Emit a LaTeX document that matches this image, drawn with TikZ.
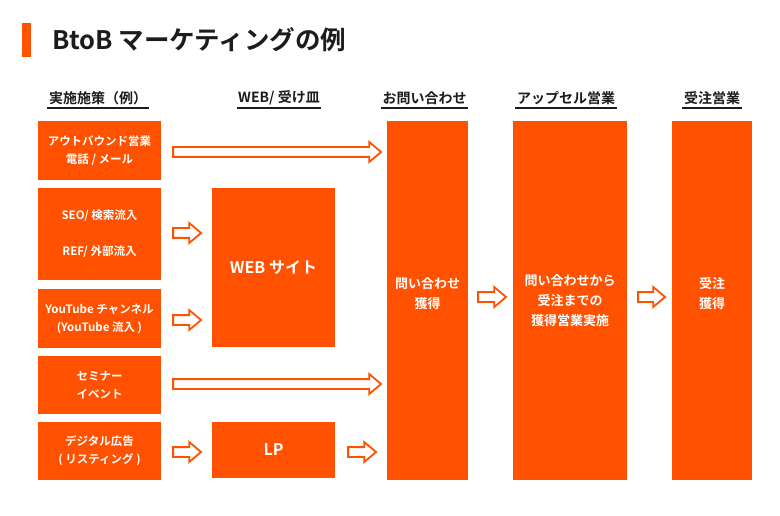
\documentclass[tikz,border=0pt]{standalone}
\usepackage{fontspec}
\setmainfont{Noto Sans CJK JP}[BoldFont={* Bold}]
\usepackage{tikz}
\usetikzlibrary{calc, shapes.arrows}

\definecolor{mkorange}{RGB}{255,81,0}
\definecolor{mkink}{RGB}{28,28,28}
\tikzset{
  box/.style={fill=mkorange, text=white, font=\bfseries\fontsize{11.5}{18}\selectfont, align=center, inner sep=0pt, minimum width=123pt},
  stage/.style={box, font=\bfseries\fontsize{13}{20}\selectfont},
  big/.style={box, font=\bfseries\fontsize{16}{18}\selectfont},
  head/.style={text=mkink, font=\bfseries\fontsize{14}{16}\selectfont, inner sep=0pt},
  uline/.style={draw=mkink, line width=2pt},
  hollow/.style={single arrow, draw=mkorange, fill=white, line width=1.8pt, inner xsep=0pt, inner ysep=4pt, text height=0pt, text depth=0pt, single arrow head extend=5pt, single arrow head indent=0pt, single arrow tip angle=80, anchor=tail}
}

\begin{document}
\begin{tikzpicture}[x=1pt, y=-1pt]
\useasboundingbox (0,0) rectangle (780,516);
% title
\fill[mkorange] (22,23) rectangle (30.5,57);
\node[anchor=west, inner sep=0pt, text=mkink, font=\bfseries\fontsize{25.5}{28}\selectfont] (title) at (52,39.5) {BtoB マーケティングの例};

% column heads
\node[head] (h1) at (98,98) {実施施策（例）};
\node[head] (h2) at (279,98) {WEB/ 受け皿};
\node[head] (h3) at (424.5,98) {お問い合わせ};
\node[head] (h4) at (566,98) {アップセル営業};
\node[head] (h5) at (712,98) {受注営業};
\foreach \h in {h1,h2,h3,h4,h5}
  \draw[uline] ($(\h.west)+(-1.5pt,-10.5pt)$) -- ($(\h.east)+(1.5pt,-10.5pt)$);

% measures
\node[box, minimum height=59pt] (b1) at (99.5,150.5) {アウトバウンド営業\\電話 / メール};
\node[box, minimum height=92pt] (b2) at (99.5,234) {SEO/ 検索流入\\[18pt]REF/ 外部流入};
\node[box, minimum height=59pt] (b3) at (99.5,318.5) {YouTube チャンネル\\(YouTube 流入 )};
\node[box, minimum height=58pt] (b4) at (99.5,385) {セミナー\\イベント};
\node[box, minimum height=58pt] (b5) at (99.5,451) {デジタル広告\\( リスティング )};

% web / landing
\node[big, minimum height=159pt] (web) at (273.5,267.5) {WEB サイト};
\node[big, minimum height=56pt] (lp) at (273.5,450) {LP};

% stages
\node[stage, minimum width=81pt, minimum height=359pt] (inq) at (427.5,300.5) {};
\node[stage, minimum width=114pt, minimum height=359pt] (up) at (570,300.5) {問い合わせから\\受注までの\\獲得営業実施};
\node[stage, minimum width=80pt, minimum height=359pt] (ord) at (712,300.5) {};
\node[stage, minimum width=0pt, fill=none] (inqtext) at ($(inq.center)+(0pt,6.5pt)$) {問い合わせ\\獲得};
\node[stage, minimum width=0pt, fill=none] (ordtext) at ($(ord.center)+(0pt,6.5pt)$) {受注\\獲得};

% arrows
\node[hollow, minimum height=208pt] (a1) at ($(b1.east)+(11pt,-1.5pt)$) {};
\node[hollow, minimum height=28pt] (a2) at ($(b2.east)+(11pt,1pt)$) {};
\node[hollow, minimum height=28pt] (a3) at ($(b3.east)+(11pt,-1.5pt)$) {};
\node[hollow, minimum height=208pt] (a4) at ($(b4.east)+(11pt,1pt)$) {};
\node[hollow, minimum height=28pt] (a5) at ($(b5.east)+(11pt,-1pt)$) {};
\node[hollow, minimum height=28pt] (a6) at ($(lp.east)+(12pt,-2pt)$) {};
\node[hollow, minimum height=28pt] (a7) at ($(inq.east)+(9pt,3.5pt)$) {};
\node[hollow, minimum height=27pt] (a8) at ($(up.east)+(10pt,3.5pt)$) {};
\end{tikzpicture}
\end{document}
